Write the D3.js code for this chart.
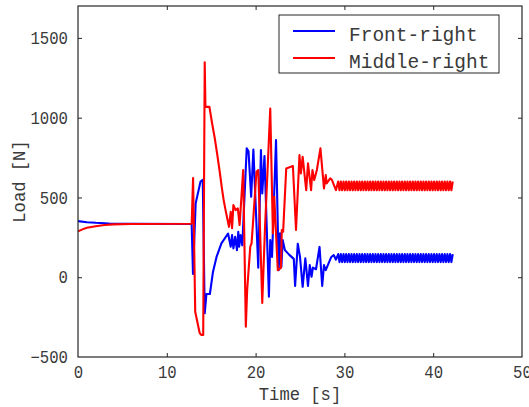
<!DOCTYPE html>
<html>
<head>
<meta charset="utf-8">
<script src="https://cdn.jsdelivr.net/npm/d3@7"></script>
<style>
  html, body { margin: 0; padding: 0; background: #fff; }
  svg { display: block; }
  .mono { font-family: "Liberation Mono", "Courier New", monospace; fill: #3a3a3a; }
</style>
</head>
<body>
<svg id="chart" width="529" height="407"></svg>
<script>
// Wheel load history: transient part of each series
const frontTime = [0.0, 1.0, 2.0, 3.5, 6.0, 12.8, 12.95, 13.25, 13.8, 14.05, 14.27, 14.46, 14.85,
  15.2, 15.6, 16.15, 16.9, 17.2, 17.35, 17.5, 17.7, 17.9, 18.05, 18.15, 18.3, 18.5, 19.0, 19.2,
  19.5, 19.75, 20.3, 20.6, 20.75, 21.0, 21.5, 21.65, 21.85, 22.3, 22.6, 22.75, 22.9, 23.05, 23.3,
  23.8, 24.3, 24.45, 24.75, 25.0, 25.3, 25.6, 25.9, 26.1, 26.3, 26.45, 26.8, 27.2, 27.5, 27.7,
  27.9, 28.5, 28.8, 29.05];
const frontLoad = [352, 345, 341, 337, 335, 334, 20, 463, 600, 610, -226, -105, -105,
  33, 127, 212, 274, 191, 264, 181, 254, 170, 285, 191, 264, 200, 808, 790,
  504, 800, 60, 797, 525, 760, -122, 233, 127, 860, 44, 275, 65, 233, 170,
  140, 115, -55, 210, 127, -60, 119, -55, 76, 3, 60, 50, 190, -55, 76,
  45, 125, 139, 110];

const middleTime = [0.0, 0.5, 1.0, 2.0, 3.0, 4.0, 6.0, 12.8, 12.96, 13.2, 13.7, 13.9, 14.1,
  14.27, 14.35, 14.8, 15.1, 15.4, 15.7, 15.96, 16.2, 16.4, 16.6, 16.8, 17.0, 17.2, 17.35, 17.5,
  17.75, 18.0, 18.2, 18.6, 18.9, 19.05, 19.4, 19.55, 20.1, 20.3, 20.75, 21.05, 21.65, 21.95,
  22.1, 22.5, 22.85, 22.95, 23.1, 23.45, 24.2, 24.55, 24.94, 25.1, 25.3, 25.7, 25.9, 26.25,
  26.4, 26.6, 26.9, 27.3, 27.7, 27.9, 28.0, 28.4, 28.6, 29.05];
const middleLoad = [288, 300, 310, 320, 327, 331, 334, 335, 622, -216, -350, -362, -362,
  1347, 1068, 1068, 965, 872, 762, 661, 560, 485, 425, 371, 316, 410, 308, 452,
  421, 432, 327, 672, -310, -80, 191, 214, 661, 672, -162, 296, 1058, 275,
  504, 44, 58, 296, 285, 682, 697, 296, 766, 651, 755, 546, 714, 546,
  672, 609, 672, 808, 557, 640, 588, 620, 609, 546];

// Steady cyclic part shared by both series
const cycleTime = [29.3, 29.45, 29.6, 29.75, 29.9, 30.05, 30.2, 30.35, 30.5, 30.65, 30.8, 30.95,
  31.1, 31.25, 31.4, 31.55, 31.7, 31.85, 32.0, 32.15, 32.3, 32.45, 32.6, 32.75, 32.9, 33.05,
  33.2, 33.35, 33.5, 33.65, 33.8, 33.95, 34.1, 34.25, 34.4, 34.55, 34.7, 34.85, 35.0, 35.15,
  35.3, 35.45, 35.6, 35.75, 35.9, 36.05, 36.2, 36.35, 36.5, 36.65, 36.8, 36.95, 37.1, 37.25,
  37.4, 37.55, 37.7, 37.85, 38.0, 38.15, 38.3, 38.45, 38.6, 38.75, 38.9, 39.05, 39.2, 39.35,
  39.5, 39.65, 39.8, 39.95, 40.1, 40.25, 40.4, 40.55, 40.7, 40.85, 41.0, 41.15, 41.3, 41.45,
  41.6, 41.75, 41.9, 42.05, 42.2];
const frontCycle = [145, 95, 145, 95, 145, 95, 145, 95, 145, 95, 145, 95,
  145, 95, 145, 95, 145, 95, 145, 95, 145, 95, 145, 95, 145, 95,
  145, 95, 145, 95, 145, 95, 145, 95, 145, 95, 145, 95, 145, 95,
  145, 95, 145, 95, 145, 95, 145, 95, 145, 95, 145, 95, 145, 95,
  145, 95, 145, 95, 145, 95, 145, 95, 145, 95, 145, 95, 145, 95,
  145, 95, 145, 95, 145, 95, 145, 95, 145, 95, 145, 95, 145, 95,
  145, 95, 145, 95, 145];
const middleCycle = [600, 545, 600, 545, 600, 545, 600, 545, 600, 545, 600, 545,
  600, 545, 600, 545, 600, 545, 600, 545, 600, 545, 600, 545, 600, 545,
  600, 545, 600, 545, 600, 545, 600, 545, 600, 545, 600, 545, 600, 545,
  600, 545, 600, 545, 600, 545, 600, 545, 600, 545, 600, 545, 600, 545,
  600, 545, 600, 545, 600, 545, 600, 545, 600, 545, 600, 545, 600, 545,
  600, 545, 600, 545, 600, 545, 600, 545, 600, 545, 600, 545, 600, 545,
  600, 545, 600, 545, 600];

const xTicks = [0, 10, 20, 30, 40, 50];
const yTicks = [-500, 0, 500, 1000, 1500];
const seriesNames = ["Front-right", "Middle-right"];
const seriesColors = ["#0000ff", "#ff0000"];
const xLabel = "Time [s]";
const yLabel = "Load [N]";

const toPoints = (ts, vs) => ts.map((t, i) => [t, vs[i]]);
const series = [
  toPoints(frontTime, frontLoad).concat(toPoints(cycleTime, frontCycle)),
  toPoints(middleTime, middleLoad).concat(toPoints(cycleTime, middleCycle))
];

const svg = d3.select("#chart");
const plotL = 78, plotR = 522, plotT = 6, plotB = 357;
const x = d3.scaleLinear().domain([0, 50]).range([plotL, plotR]);
const y = d3.scaleLinear().domain([-500, 1700]).range([plotB, plotT]);

svg.append("defs").append("clipPath").attr("id", "plot-clip")
  .append("rect").attr("x", plotL).attr("y", plotT)
  .attr("width", plotR - plotL).attr("height", plotB - plotT);

// Data lines
const line = d3.line().x(d => x(d[0])).y(d => y(d[1]));
const plot = svg.append("g").attr("clip-path", "url(#plot-clip)");
series.forEach((pts, i) => {
  plot.append("path").datum(pts)
    .attr("d", line)
    .attr("fill", "none")
    .attr("stroke", seriesColors[i])
    .attr("stroke-width", 2.1)
    .attr("stroke-linejoin", "round");
});

// Axes with inward ticks on all four sides
const tickLen = 4;
const styleAxis = g => {
  g.select(".domain").remove();
  g.selectAll(".tick line").attr("stroke", "#262626").attr("stroke-width", 1);
};
const fitText = (g, perChar) => {
  g.selectAll(".tick text")
    .attr("class", "mono")
    .attr("font-size", 17.5)
    .attr("fill", null)
    .attr("textLength", function () { return this.textContent.length * perChar; })
    .attr("lengthAdjust", "spacingAndGlyphs");
};

svg.append("g").attr("transform", `translate(0,${plotB})`)
  .call(d3.axisBottom(x).tickValues(xTicks).tickSize(-tickLen).tickPadding(9).tickFormat(d3.format("d")))
  .call(styleAxis).call(g => fitText(g, 9.4))
  .call(g => g.selectAll(".tick").filter(d => d === 0 || d === 50).select("line").remove());

svg.append("g").attr("transform", `translate(0,${plotT})`)
  .call(d3.axisTop(x).tickValues(xTicks.slice(1, -1)).tickSize(-tickLen).tickFormat(""))
  .call(styleAxis);

svg.append("g").attr("transform", `translate(${plotL},0)`)
  .call(d3.axisLeft(y).tickValues(yTicks).tickSize(-tickLen).tickPadding(10).tickFormat(d3.format("d")))
  .call(styleAxis).call(g => fitText(g, 9.4))
  .call(g => g.selectAll(".tick").filter(d => d === -500).select("line").remove());

svg.append("g").attr("transform", `translate(${plotR},0)`)
  .call(d3.axisRight(y).tickValues(yTicks.slice(1)).tickSize(-tickLen).tickFormat(""))
  .call(styleAxis);

// Frame
svg.append("rect")
  .attr("x", plotL).attr("y", plotT)
  .attr("width", plotR - plotL).attr("height", plotB - plotT)
  .attr("fill", "none").attr("stroke", "#262626").attr("stroke-width", 1.2);

// Axis titles
svg.append("text").attr("class", "mono")
  .attr("x", (plotL + plotR) / 2).attr("y", 399.5)
  .attr("text-anchor", "middle").attr("font-size", 19)
  .attr("textLength", xLabel.length * 10.3).attr("lengthAdjust", "spacingAndGlyphs")
  .text(xLabel);

svg.append("text").attr("class", "mono")
  .attr("transform", `translate(25,${(plotT + plotB) / 2}) rotate(-90)`)
  .attr("text-anchor", "middle").attr("font-size", 19)
  .attr("textLength", yLabel.length * 10.3).attr("lengthAdjust", "spacingAndGlyphs")
  .text(yLabel);

// Legend
const legend = svg.append("g");
legend.append("rect")
  .attr("x", 279).attr("y", 15).attr("width", 220).attr("height", 58)
  .attr("fill", "#fff").attr("stroke", "#262626").attr("stroke-width", 1);
const rowY = [31, 58];
seriesNames.forEach((name, i) => {
  legend.append("line")
    .attr("x1", 293).attr("x2", 335).attr("y1", rowY[i]).attr("y2", rowY[i])
    .attr("stroke", seriesColors[i]).attr("stroke-width", 2);
  legend.append("text").attr("class", "mono")
    .attr("x", 349).attr("y", rowY[i] + 9.8)
    .attr("font-size", 19.5)
    .text(name);
});
</script>
</body>
</html>
